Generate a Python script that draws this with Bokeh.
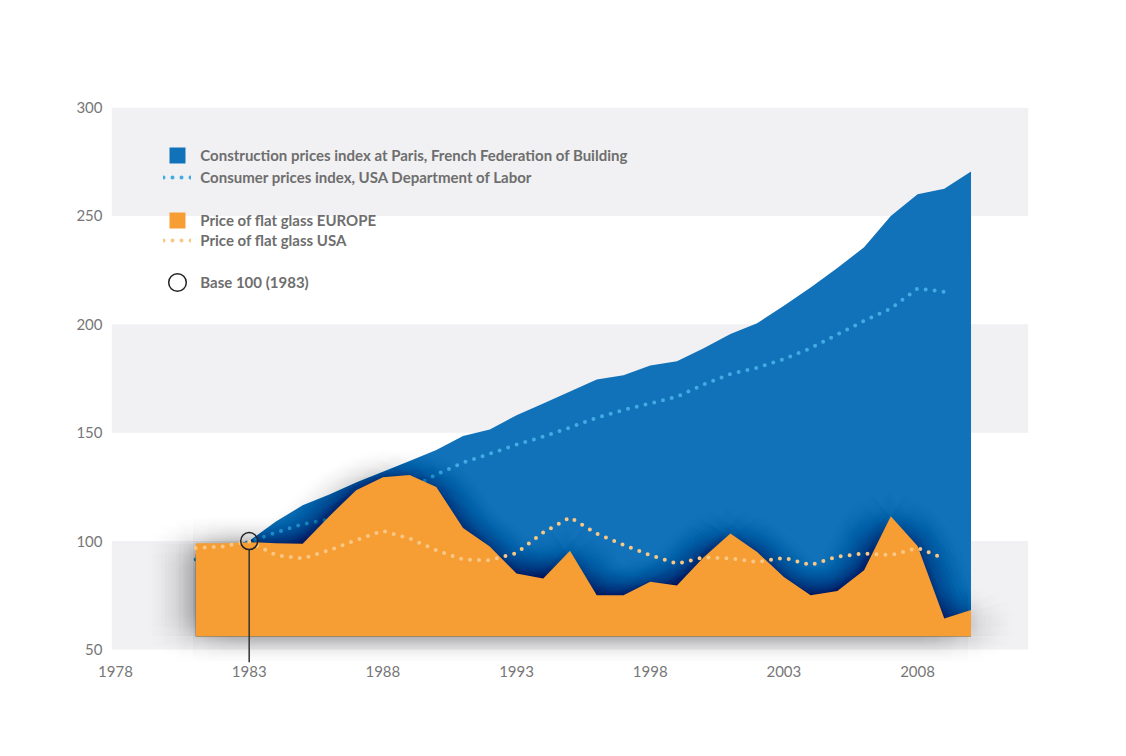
import math
from bokeh.plotting import figure
from bokeh.models import BoxAnnotation, FixedTicker, Legend, LegendItem, Range1d
from bokeh.embed import file_html
from bokeh.resources import INLINE

# ---------------- data ----------------
YEARS = list(range(1981, 2011))          # area series
LINE_YEARS = list(range(1981, 2010))     # dotted series

construction_paris = [94, 97, 100, 109, 116.5, 121.5, 127, 132, 137, 142,
                      148.5, 151.5, 158, 163.5, 169, 174.5, 176.5, 181, 183, 189,
                      195.5, 200.5, 208.5, 217, 226, 235.5, 250, 260, 262.5, 270.5]

glass_europe = [99, 99, 99.5, 99, 98.8, 111.5, 123.5, 129.5, 130.5, 125,
                106, 97.5, 85, 82.8, 95.5, 75, 75, 81.2, 79.5, 92.5,
                103.5, 95, 83.4, 75, 77, 86.5, 111.5, 97.7, 64.3, 68.2]

cpi_usa = [91.5, 96.3, 99.6, 103.9, 107.8, 110, 113.8, 118.3, 124, 130.7,
           136.2, 140.3, 144.5, 148.2, 152.4, 156.9, 160.5, 163.5, 166.6, 172.2,
           177.1, 180, 184, 189, 195.3, 201.6, 207.3, 216.5, 215]

glass_usa = [96.8, 97.5, 99.8, 93.5, 92, 95.8, 100.5, 104.7, 101.2, 95.8,
             91.5, 91.2, 94.5, 104, 110.9, 103.5, 98.3, 93.5, 89.6, 92.5,
             92, 90.4, 92.3, 89, 92.8, 94.3, 93.5, 96.8, 92]

AREA_BASE = 56
BASE_YEAR = 1983
BASE_VALUE = 100

X_TICKS = [1978, 1983, 1988, 1993, 1998, 2003, 2008]
Y_TICKS = [50, 100, 150, 200, 250, 300]

LABELS = ["Construction prices index at Paris, French Federation of Building",
          "Consumer prices index, USA Department of Labor",
          "Price of flat glass EUROPE",
          "Price of flat glass USA",
          "Base 100 (1983)"]

# ---------------- style ----------------
BLUE = "#1172ba"
BLUE_DOT = "#42abe4"
ORANGE = "#f69d34"
ORANGE_DOT = "#f9c886"
BAND = "#f1f1f3"
TEXT = "#6e6e6e"
FONT = "Lato"

W, H = 1110, 740
BL, BR, BT, BB = 111, 82, 107, 78
X0, X1 = 1977.85, 2012.15
Y0, Y1 = 44, 300

p = figure(width=W, height=H, x_range=Range1d(X0, X1), y_range=Range1d(Y0, Y1),
           output_backend="svg", toolbar_location=None,
           min_border_left=BL, min_border_right=BR, min_border_top=BT, min_border_bottom=BB)
p.outline_line_color = None
p.xgrid.visible = False
p.ygrid.visible = False
p.background_fill_color = "white"
p.border_fill_color = "white"

ppx = (W - BL - BR) / (X1 - X0)
ppy = (H - BT - BB) / (Y1 - Y0)

# alternating bands
for lo, hi in zip(Y_TICKS[0::2], Y_TICKS[1::2]):
    p.add_layout(BoxAnnotation(bottom=lo, top=hi, fill_color=BAND, fill_alpha=1,
                               line_color=None, level="underlay"))


def soft_shadow(xs, ys, shift_x=-3, v_ratio=0.6):
    """Blurred drop shadow: stacked, slightly shifted copies of the area outline."""
    px = [xs[0]] + list(xs) + [xs[-1]]
    py = [AREA_BASE] + list(ys) + [AREA_BASE]
    sx, sy = [], []
    n_dir = 16
    for r in range(5, 46, 5):
        for k in range(n_dir):
            a = 2 * math.pi * k / n_dir
            dx = (r * math.cos(a) + shift_x) / ppx
            dy = (r * v_ratio * math.sin(a)) / ppy
            sx.append([x + dx for x in px])
            sy.append([y + dy for y in py])
    return sx, sy


r_blue = p.varea(x=YEARS, y1=AREA_BASE, y2=construction_paris, fill_color=BLUE)
r_cpi = p.line(LINE_YEARS, cpi_usa, line_color=BLUE_DOT, line_width=4,
               line_dash="0 9", line_cap="round")

osx, osy = soft_shadow(YEARS, glass_europe)
p.patches(osx, osy, fill_color="black", fill_alpha=0.0031, line_color=None)

r_orange = p.varea(x=YEARS, y1=AREA_BASE, y2=glass_europe, fill_color=ORANGE)
r_gusa = p.line(LINE_YEARS, glass_usa, line_color=ORANGE_DOT, line_width=4,
                line_dash="0 9", line_cap="round")

# base marker
CIRCLE_PX = 17
p.segment(x0=[BASE_YEAR], y0=[BASE_VALUE - (CIRCLE_PX / 2) / ppy], x1=[BASE_YEAR], y1=[Y0],
          line_color="#333333", line_width=1.5)
r_base = p.scatter([BASE_YEAR], [BASE_VALUE], marker="circle", size=CIRCLE_PX,
                   fill_color=None, line_color="#222222", line_width=1.5)

# axes
for ax in (p.xaxis, p.yaxis):
    ax.axis_line_color = None
    ax.major_tick_line_color = None
    ax.minor_tick_line_color = None
    ax.major_tick_out = 0
    ax.minor_tick_out = 0
    ax.major_tick_in = 0
    ax.minor_tick_in = 0
    ax.major_label_text_font = FONT
    ax.major_label_text_font_size = "15px"
    ax.major_label_text_color = "#777777"
p.xaxis.ticker = FixedTicker(ticks=X_TICKS)
p.yaxis.ticker = FixedTicker(ticks=Y_TICKS)
p.xaxis.major_label_standoff = 3
p.yaxis.major_label_standoff = 9

# legends (one per row, to reproduce the grouped spacing)
frame_left = BL
frame_bottom = H - BB


def add_legend(label, renderer, gw, gh, center_x, center_y, text_x):
    left = center_x - gw / 2
    bottom = center_y + gh / 2
    lg = Legend(items=[LegendItem(label=label, renderers=[renderer])],
                location=(left - frame_left, frame_bottom - bottom),
                glyph_width=gw, glyph_height=gh, label_height=gh,
                label_standoff=int(round(text_x - (left + gw))),
                padding=0, margin=0, spacing=0,
                background_fill_alpha=0, border_line_alpha=0,
                label_text_font=FONT, label_text_font_size="15px",
                label_text_font_style="bold", label_text_color=TEXT)
    p.add_layout(lg)


TX = 200.5
CX = 177.3
add_legend(LABELS[0], r_blue, 20, 20, CX, 155.3, TX)
add_legend(LABELS[1], r_cpi, 28, 20, CX, 176.5, TX)
add_legend(LABELS[2], r_orange, 20, 20, CX, 219.5, TX)
add_legend(LABELS[3], r_gusa, 28, 20, CX, 240.0, TX)
add_legend(LABELS[4], r_base, 44, 44, CX, 282.0, TX)

open("out.html", "w").write(file_html(p, INLINE))
